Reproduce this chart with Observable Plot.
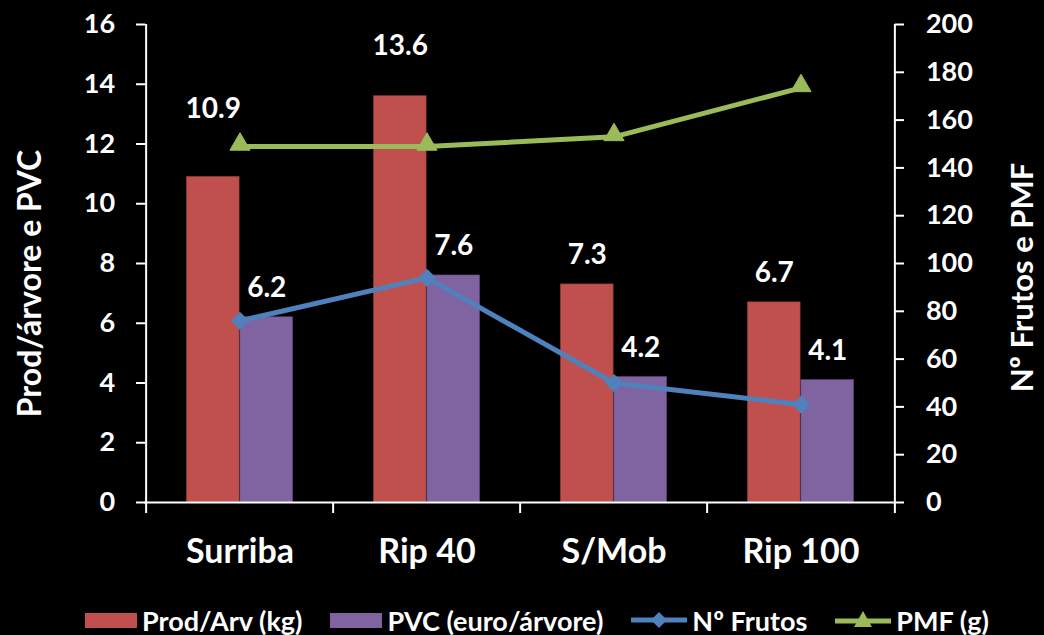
<!DOCTYPE html>
<html>
<head>
<meta charset="utf-8">
<script src="https://cdn.jsdelivr.net/npm/d3@7"></script>
<script src="https://cdn.jsdelivr.net/npm/@observablehq/plot@0.6"></script>
<style>
  html, body { margin: 0; padding: 0; background: #000; }
  body { width: 1044px; height: 635px; overflow: hidden; font-family: Lato, "Open Sans", sans-serif; font-weight: bold; color: #fff; }
  #chart svg { display: block; }
  #legend { display: flex; align-items: center; height: 40px; padding-top: 5px; padding-left: 85px; font-size: 27px; white-space: nowrap; }
  .item { display: flex; align-items: center; margin-right: 28px; }
  .item svg { margin-right: 5px; }
</style>
</head>
<body>
<div id="chart"></div>
<div id="legend"></div>
<script>
const categories = ["Surriba", "Rip 40", "S/Mob", "Rip 100"];
const prodArv = [10.9, 13.6, 7.3, 6.7];
const pvc = [6.2, 7.6, 4.2, 4.1];
const nFrutos = [76, 94, 50, 41];
const pmf = [149, 149, 153, 173.5];
const leftTicks = [0, 2, 4, 6, 8, 10, 12, 14, 16];
const rightTicks = [0, 20, 40, 60, 80, 100, 120, 140, 160, 180, 200];
const seriesNames = ["Prod/Arv (kg)", "PVC (euro/árvore)", "Nº Frutos", "PMF (g)"];
const axisTitles = ["Prod/árvore e PVC", "Nº Frutos e PMF"];

const colors = { prod: "#C0504D", pvc: "#8064A2", frutos: "#4F81BD", pmf: "#9BBB59" };
const W = 1044, H = 595;
const mL = 144, mR = 149, mT = 24, mB = 93;
const bw = (W - mL - mR) / categories.length;
const barW = 53.5;
const ratio = 16 / 200; // right axis -> left axis
const labelDy = -29;
const labelOverride = { "Surriba": -68, "Rip 40": -50 }; // manually moved Prod labels

const rows = categories.map((c, i) => ({ c, prod: prodArv[i], pvc: pvc[i], fr: nFrutos[i], pmf: pmf[i] }));
const first = () => categories[0];
const last = () => categories[categories.length - 1];

const txt = { fill: "white", fontWeight: "bold", fontFamily: "Lato" };

const prodLabelMarks = [
  Plot.text(rows.filter(d => labelOverride[d.c] === undefined), { x: "c", y: "prod", dx: -barW / 2, dy: labelDy, text: d => d.prod.toFixed(1), fontSize: 28, ...txt }),
  ...Object.entries(labelOverride).map(([c, dy]) =>
    Plot.text(rows.filter(d => d.c === c), { x: "c", y: "prod", dx: -barW / 2, dy, text: d => d.prod.toFixed(1), fontSize: 28, ...txt }))
];

const chart = Plot.plot({
  width: W, height: H,
  marginLeft: mL, marginRight: mR, marginTop: mT, marginBottom: mB,
  style: { background: "#000", color: "#fff", fontFamily: "Lato", fontWeight: "bold", overflow: "visible" },
  x: { type: "band", domain: categories, padding: 0, axis: null },
  y: { domain: [0, 16], axis: null },
  marks: [
    // bars
    Plot.barY(rows, { x: "c", y: "prod", fill: colors.prod, stroke: "#8C3836", strokeWidth: 0.6, insetLeft: bw / 2 - barW, insetRight: bw / 2 }),
    Plot.barY(rows, { x: "c", y: "pvc", fill: colors.pvc, stroke: "#5C4776", strokeWidth: 0.6, insetLeft: bw / 2, insetRight: bw / 2 - barW }),
    // axis lines
    Plot.ruleY([0], { stroke: "white", strokeWidth: 2 }),
    Plot.ruleX([0], { x: first, dx: -bw / 2, stroke: "white", strokeWidth: 2 }),
    Plot.ruleX([0], { x: last, dx: bw / 2, stroke: "white", strokeWidth: 2 }),
    // x boundary ticks
    Plot.ruleX(categories, { x: d => d, dx: -bw / 2, y1: 0, y2: 0, insetTop: 11, stroke: "white", strokeWidth: 2 }),
    Plot.ruleX([0], { x: last, dx: bw / 2, y1: 0, y2: 0, insetTop: 11, stroke: "white", strokeWidth: 2 }),
    // left ticks
    Plot.tickY(leftTicks, { y: d => d, x: first, insetLeft: 0, insetRight: bw - 10, dx: -10, stroke: "white", strokeWidth: 2 }),
    Plot.text(leftTicks, { y: d => d, x: first, dx: -bw / 2 - 31, text: d => String(d), textAnchor: "end", fontSize: 27, ...txt }),
    // right ticks
    Plot.tickY(rightTicks, { y: d => d * ratio, x: last, insetLeft: bw - 10, insetRight: 0, dx: 10, stroke: "white", strokeWidth: 2 }),
    Plot.text(rightTicks, { y: d => d * ratio, x: last, dx: bw / 2 + 31, text: d => String(d), textAnchor: "start", fontSize: 27, ...txt }),
    // category labels
    Plot.text(categories, { x: d => d, y: 0, dy: 50, text: d => d, fontSize: 34, ...txt }),
    // axis titles
    Plot.text([axisTitles[0]], { frameAnchor: "left", dx: -114, dy: 20, rotate: -90, textAnchor: "middle", text: d => d, fontSize: 32, ...txt }),
    Plot.text([axisTitles[1]], { frameAnchor: "right", dx: 128, dy: 14, rotate: -90, textAnchor: "middle", text: d => d, fontSize: 31, ...txt }),
    // lines
    Plot.line(rows, { x: "c", y: d => d.fr * ratio, stroke: colors.frutos, strokeWidth: 5 }),
    Plot.dot(rows, { x: "c", y: d => d.fr * ratio, symbol: "diamond2", r: 7.7, fill: colors.frutos, stroke: colors.frutos, strokeWidth: 1 }),
    Plot.line(rows, { x: "c", y: d => d.pmf * ratio, stroke: colors.pmf, strokeWidth: 5 }),
    Plot.dot(rows, { x: "c", y: d => d.pmf * ratio, symbol: "triangle", r: 7.5, dy: -2, fill: colors.pmf, stroke: colors.pmf, strokeWidth: 1 }),
    // data labels
    ...prodLabelMarks,
    Plot.text(rows, { x: "c", y: "pvc", dx: barW / 2, dy: labelDy, text: d => d.pvc.toFixed(1), fontSize: 28, ...txt })
  ]
});
document.getElementById("chart").appendChild(chart);

const legend = document.getElementById("legend");
function item(name, svg) {
  const d = document.createElement("div");
  d.className = "item";
  d.innerHTML = svg + "<span>" + name + "</span>";
  legend.appendChild(d);
}
item(seriesNames[0], `<svg width="52" height="15"><rect width="52" height="15" fill="${colors.prod}"/></svg>`);
item(seriesNames[1], `<svg width="52" height="15"><rect width="52" height="15" fill="${colors.pvc}"/></svg>`);
item(seriesNames[2], `<svg width="56" height="20"><line x1="0" x2="56" y1="10" y2="10" stroke="${colors.frutos}" stroke-width="5"/><path d="M28,2L36,10L28,18L20,10Z" fill="${colors.frutos}"/></svg>`);
item(seriesNames[3], `<svg width="56" height="20"><line x1="0" x2="56" y1="11" y2="11" stroke="${colors.pmf}" stroke-width="5"/><path d="M28,1L37,17L19,17Z" fill="${colors.pmf}"/></svg>`);
</script>
</body>
</html>
